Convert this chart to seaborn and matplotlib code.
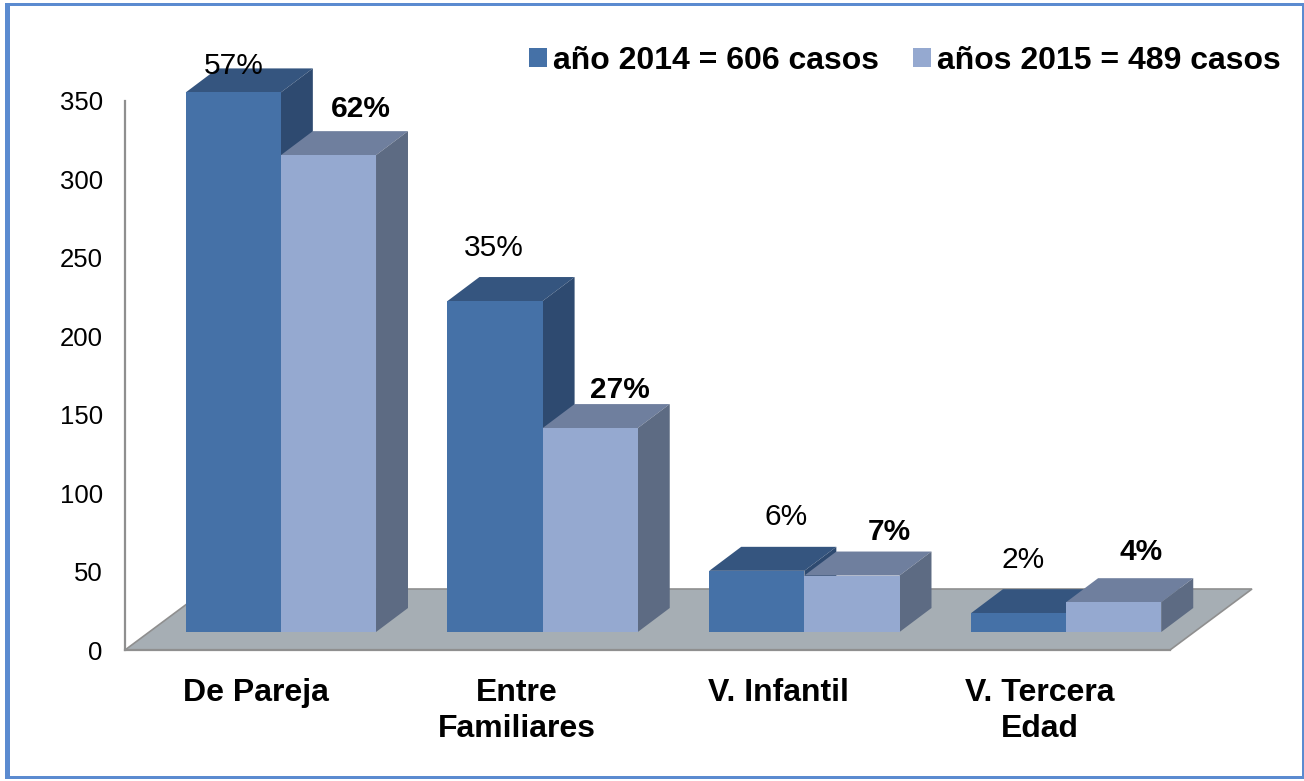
import matplotlib
matplotlib.use('Agg')
import matplotlib.pyplot as plt
import pandas as pd
import seaborn as sb
from matplotlib.patches import Polygon, Rectangle

categories = ['De Pareja', 'Entre\nFamiliares', 'V. Infantil', 'V. Tercera\nEdad']
series_names = ['año 2014 = 606 casos', 'años 2015 = 489 casos']
values_2014 = [344, 211, 39, 12]
values_2015 = [304, 130, 36, 19]
pct_2014 = ['57%', '35%', '6%', '2%']
pct_2015 = ['62%', '27%', '7%', '4%']
y_ticks = [0, 50, 100, 150, 200, 250, 300, 350]

W, H = 1304, 781
front_colors = ['#4571A7', '#95A9D0']
top_colors = ['#35557F', '#6F7F9E']
side_colors = ['#2E4A70', '#5D6B83']
GRAY = '#8F8F8F'

# desplazamiento (px) de cada etiqueta respecto al centro superior de su barra
offset_2014 = [(0, 26), (-1, 53), (29, 54), (5, 53)]
offset_2015 = [(32, 46), (30, 38), (37, 44), (27, 50)]


def px_axes(fig, left, right, top, bottom):
    return fig.add_axes([left / W, 1 - bottom / H, (right - left) / W, (bottom - top) / H])


sb.set_theme(style='white')
plt.rcParams['font.family'] = ['Liberation Sans', 'DejaVu Sans']

fig = plt.figure(figsize=(W / 100, H / 100), dpi=100)
fig.add_artist(Rectangle((5 / W, 1 - 779 / H), 1299 / W, 776 / H, transform=fig.transFigure,
                         facecolor='#5B8BD0', edgecolor='none', zorder=-2))
fig.add_artist(Rectangle((10 / W, 1 - 776 / H), 1292 / W, 770 / H, transform=fig.transFigure,
                         facecolor='white', edgecolor='none', zorder=-1))

# eje de escala: valores a la izquierda y categorias sobre el borde del suelo
ax_scale = px_axes(fig, 125, 1170, 101, 650)
ax_scale.patch.set_visible(False)
ax_scale.set_xlim(-0.5, 3.5)
ax_scale.set_ylim(0, 350)
ax_scale.set_yticks(y_ticks)
ax_scale.set_xticks(range(len(categories)))
ax_scale.set_xticklabels(categories, fontsize=23, fontweight='bold', color='black', linespacing=1.27)
ax_scale.tick_params(axis='y', length=0, pad=16, labelsize=18.5, labelcolor='black')
ax_scale.tick_params(axis='x', length=0, pad=20)
for side in ['top', 'right']:
    ax_scale.spines[side].set_visible(False)
for side in ['left', 'bottom']:
    ax_scale.spines[side].set_color(GRAY)
    ax_scale.spines[side].set_linewidth(1.6)

x_unit = 1045 / 4
y_unit = 549 / 350
floor_dx, floor_dy = 82 / x_unit, 61 / y_unit
ax_scale.add_patch(Polygon([(-0.5, 0), (3.5, 0), (3.5 + floor_dx, floor_dy), (-0.5 + floor_dx, floor_dy)],
                           closed=True, facecolor='#A6AEB4', edgecolor=GRAY, linewidth=1.2,
                           clip_on=False, zorder=1))

# barras: mismo eje desplazado hacia el fondo del suelo
ax = px_axes(fig, 150, 1197, 83, 632)
ax.patch.set_visible(False)
df = pd.DataFrame({
    'categoria': categories * 2,
    'serie': [series_names[0]] * 4 + [series_names[1]] * 4,
    'casos': values_2014 + values_2015,
})
sb.barplot(data=df, x='categoria', y='casos', hue='serie', order=categories, hue_order=series_names,
           palette=front_colors, saturation=1, width=0.727, gap=0, linewidth=0, ax=ax)
ax.set_xlim(-0.5, 3.5)
ax.set_ylim(0, 350)
ax.axis('off')

dx, dy = 32 / 262, 24 / y_unit
labels = [pct_2014, pct_2015]
offsets = [offset_2014, offset_2015]
for s, container in enumerate(ax.containers):
    for i, bar in enumerate(container):
        x0, x1 = bar.get_x(), bar.get_x() + bar.get_width()
        y1 = bar.get_height()
        bar.set_zorder(3 + s * 2)
        ax.add_patch(Polygon([(x0, y1), (x1, y1), (x1 + dx, y1 + dy), (x0 + dx, y1 + dy)], closed=True,
                             facecolor=top_colors[s], edgecolor='none', clip_on=False, zorder=2 + s * 2))
        ax.add_patch(Polygon([(x1, 0), (x1, y1), (x1 + dx, y1 + dy), (x1 + dx, dy)], closed=True,
                             facecolor=side_colors[s], edgecolor='none', clip_on=False, zorder=2 + s * 2))
        ax.annotate(labels[s][i], xy=((x0 + x1) / 2, y1), xytext=offsets[s][i], textcoords='offset pixels',
                    ha='center', va='center', fontsize=21.5, color='black',
                    fontweight='bold' if s == 1 else 'normal', annotation_clip=False, zorder=10)

handles, names = ax.get_legend_handles_labels()
if ax.legend_ is not None:
    ax.legend_.remove()
fig.legend(handles, names, ncol=2, frameon=False, loc='center right', bbox_to_anchor=(1281 / W, 1 - 61 / H),
           prop={'family': 'Liberation Sans', 'weight': 'bold', 'size': 23}, labelcolor='black',
           handlelength=0.56, handleheight=0.56, handletextpad=0.2, columnspacing=1.05,
           borderpad=0, borderaxespad=0)

fig.savefig('out.png', dpi=100)
